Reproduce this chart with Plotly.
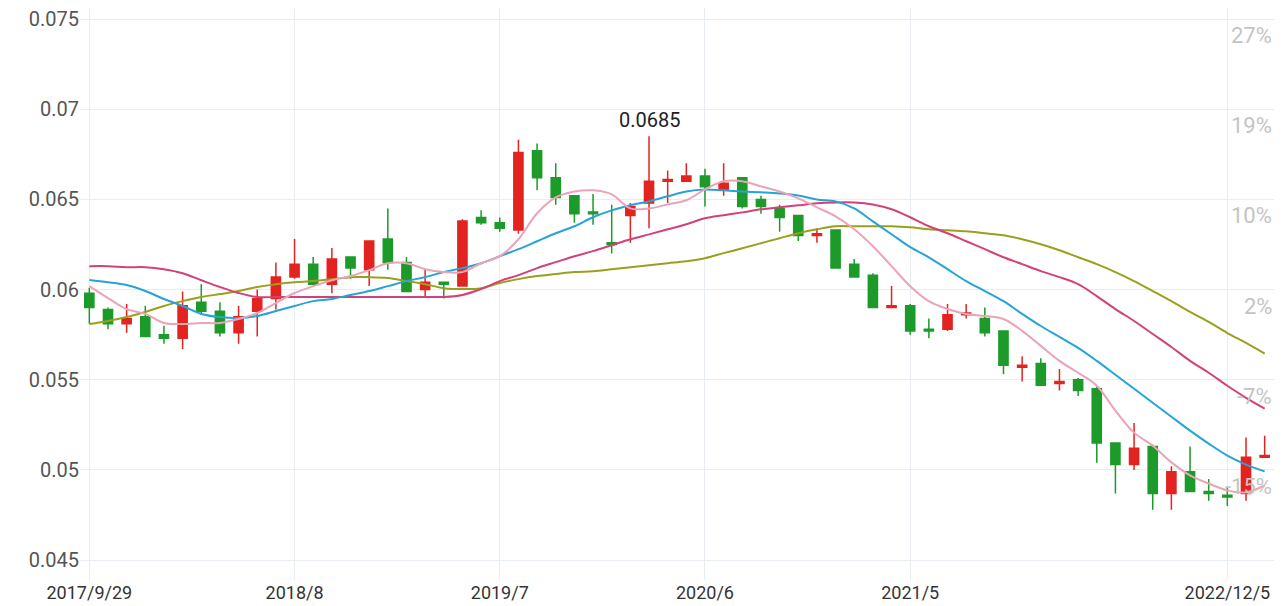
import numpy as np
import plotly.graph_objects as go

# monthly candles, values in units of 0.0001
opens = [598, 589, 581, 585, 575, 573, 593, 588, 576, 588, 595, 607, 614, 603, 618, 611,
         628, 615, 600, 604, 602, 640, 637, 633, 677, 662, 652, 643, 626, 641, 648, 660,
         660, 663, 655, 662, 650, 645, 641, 630, 633, 614, 608, 590, 591, 578, 578, 586,
         584, 577, 557, 559, 548, 550, 545, 515, 503, 513, 487, 499, 488, 486, 487, 507]
closes = [590, 581, 584, 574, 573, 591, 588, 576, 585, 595, 607, 614, 603, 617, 612, 627,
          615, 599, 604, 603, 638, 637, 634, 676, 662, 651, 642, 642, 625, 646, 660, 661,
          663, 657, 659, 646, 646, 640, 630, 631, 612, 607, 590, 591, 577, 577, 586, 587,
          576, 558, 558, 547, 549, 544, 515, 503, 512, 487, 499, 488, 487, 485, 507, 508]
highs = [601, 590, 592, 591, 580, 599, 603, 593, 591, 600, 615, 628, 618, 623, 618, 627,
         645, 618, 611, 604, 639, 644, 640, 683, 681, 670, 652, 653, 647, 648, 685, 666,
         670, 667, 670, 662, 652, 647, 641, 634, 633, 617, 609, 602, 592, 584, 592, 592,
         590, 577, 563, 562, 556, 551, 546, 515, 526, 514, 502, 513, 495, 490, 518, 519]
lows = [581, 578, 576, 574, 570, 567, 586, 574, 570, 574, 589, 606, 603, 598, 606, 602,
        611, 599, 596, 595, 602, 636, 632, 631, 655, 647, 637, 636, 620, 626, 634, 648,
        660, 646, 652, 645, 642, 632, 627, 626, 612, 607, 590, 590, 575, 573, 577, 584,
        574, 553, 549, 547, 544, 541, 504, 487, 500, 478, 478, 488, 483, 480, 483, 507]

ma5 = [601.9, 595.3, 589.2, 586.5, 581.5, 580.9, 581.5, 581.5, 583.7, 587.0, 592.5, 598.1,
       601.9, 605.2, 607.5, 610.8, 614.6, 614.6, 611.3, 609.7, 609.7, 614.6, 618.5, 627.9,
       642.3, 651.1, 654.4, 655.0, 652.8, 645.0, 645.0, 647.2, 649.5, 655.5, 660.0, 660.0,
       657.2, 654.4, 650.6, 645.6, 640.6, 633.4, 624.0, 613.0, 601.9, 593.6, 589.2, 586.5,
       585.4, 583.7, 577.1, 568.8, 560.5, 553.9, 546.7, 532.9, 520.7, 513.5, 504.2, 497.0,
       492.5, 488.7, 487.6, 491.4]
ma10 = [605.3, 604.1, 602.5, 599.2, 594.8, 590.9, 586.5, 584.8, 584.3, 585.4, 588.1, 590.9,
        593.6, 594.8, 597.0, 599.2, 601.9, 604.7, 606.9, 609.7, 611.9, 614.6, 618.5, 622.4,
        626.8, 631.2, 635.1, 640.1, 643.9, 646.7, 648.9, 651.7, 654.4, 655.5, 655.0, 654.4,
        653.9, 653.3, 652.2, 650.0, 648.9, 645.0, 637.8, 630.7, 623.5, 617.9, 611.3, 604.7,
        599.2, 593.6, 586.5, 579.8, 573.8, 567.7, 560.5, 552.8, 545.0, 537.3, 529.5, 521.8,
        514.6, 508.0, 503.0, 499.2]
ma20 = [613.0, 613.0, 612.4, 612.4, 611.3, 609.1, 605.2, 601.4, 598.1, 595.9, 595.9, 595.9,
        595.9, 595.9, 595.9, 595.9, 595.9, 595.9, 595.9, 595.9, 597.0, 600.3, 604.7, 608.0,
        611.9, 615.2, 618.5, 621.3, 624.6, 627.9, 630.6, 633.4, 636.2, 639.5, 641.2, 642.8,
        644.5, 645.6, 646.7, 647.8, 648.3, 648.3, 647.2, 644.5, 640.1, 635.1, 631.2, 626.8,
        622.4, 617.9, 614.1, 610.2, 606.9, 603.0, 596.4, 589.2, 582.6, 575.4, 568.2, 560.5,
        553.9, 546.7, 540.0, 534.0]
ma30 = [580.9, 582.6, 584.8, 587.6, 590.9, 593.6, 595.9, 597.5, 599.2, 601.4, 603.0, 604.1,
        604.7, 605.8, 606.9, 606.9, 606.4, 604.7, 603.0, 600.8, 600.3, 600.8, 603.6, 605.8,
        607.5, 608.6, 609.7, 610.2, 611.3, 612.4, 613.5, 614.6, 615.7, 617.4, 620.2, 622.9,
        625.7, 628.5, 631.2, 633.4, 635.1, 635.1, 635.1, 635.1, 634.5, 633.4, 632.9, 632.3,
        631.2, 630.1, 627.9, 625.1, 621.8, 617.9, 614.1, 609.7, 604.7, 599.2, 593.6, 587.6,
        582.1, 575.9, 570.4, 564.5]

tick_idx = [0, 11, 22, 33, 44, 61]
tick_text = ['2017/9/29', '2018/8', '2019/7', '2020/6', '2021/5', '2022/12/5']
pct_vals = [0.075, 0.07, 0.065, 0.06, 0.055, 0.05]
pct_text = ['27%', '19%', '10%', '2%', '-7%', '-15%']

S = 1e-4
x = list(range(len(opens)))

fig = go.Figure()
fig.add_trace(go.Candlestick(
    x=x, open=np.array(opens) * S, high=np.array(highs) * S,
    low=np.array(lows) * S, close=np.array(closes) * S,
    increasing=dict(line=dict(color='#e3231f', width=1.5), fillcolor='#e3231f'),
    decreasing=dict(line=dict(color='#1c9a2a', width=1.5), fillcolor='#1c9a2a'),
    whiskerwidth=0, showlegend=False))

for vals, col in [(ma30, '#9aa01c'), (ma20, '#d2417a'), (ma10, '#27a3d6'), (ma5, '#eba3b8')]:
    fig.add_trace(go.Scatter(x=x, y=np.array(vals) * S, mode='lines',
                             line=dict(color=col, width=2, shape='spline'),
                             showlegend=False, hoverinfo='skip'))

hi_i = int(np.argmax(highs))
fig.add_annotation(x=hi_i, y=highs[hi_i] * S, text=f'{highs[hi_i] * S:.4f}',
                   showarrow=False, yanchor='bottom', yshift=2,
                   font=dict(size=20, color='#222'))

for v, t in zip(pct_vals, pct_text):
    fig.add_annotation(xref='paper', x=1.0, y=v, text=t, showarrow=False,
                       xanchor='right', yanchor='top', yshift=-2,
                       font=dict(size=22, color='#c4c4c4'))

fig.update_layout(
    width=1284, height=606,
    margin=dict(l=72, r=18, t=0, b=34),
    plot_bgcolor='white', paper_bgcolor='white',
    font=dict(family='Roboto, DejaVu Sans', size=19, color='#555'),
    xaxis=dict(range=[-0.5, len(opens) - 0.5], tickvals=tick_idx, ticktext=tick_text,
               showgrid=True, gridcolor='#e8edf2', rangeslider=dict(visible=False),
               tickfont=dict(size=18, color='#333'), zeroline=False),
    yaxis=dict(range=[0.04390, 0.07561], tickvals=[0.045, 0.05, 0.055, 0.06, 0.065, 0.07, 0.075],
               ticktext=['0.045', '0.05', '0.055', '0.06', '0.065', '0.07', '0.075'],
               ticklabeloverflow='allow',
               gridcolor='#e8edf2', tickfont=dict(size=20, color='#555'), zeroline=False),
)

fig.write_html("out.html")
